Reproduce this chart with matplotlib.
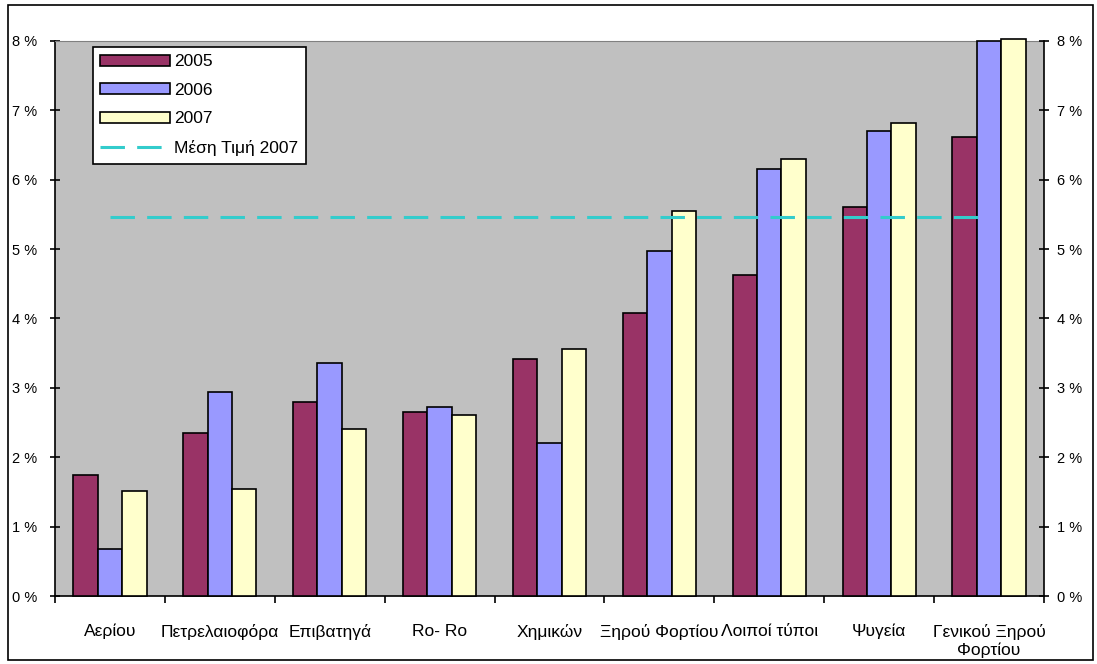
import matplotlib.pyplot as plt
import numpy as np
from matplotlib.patches import Rectangle
from matplotlib.ticker import FuncFormatter

plt.rcParams['font.family'] = ['Liberation Sans', 'DejaVu Sans']

# share of each ship type (%), by year
categories = ['Αερίου', 'Πετρελαιοφόρα', 'Επιβατηγά', 'Ro- Ro', 'Χημικών',
              'Ξηρού Φορτίου', 'Λοιποί τύποι', 'Ψυγεία', 'Γενικού Ξηρού\nΦορτίου']
years = ['2005', '2006', '2007']
vals_2005 = [1.74, 2.35, 2.80, 2.65, 3.41, 4.08, 4.63, 5.60, 6.61]
vals_2006 = [0.68, 2.94, 3.36, 2.72, 2.20, 4.97, 6.15, 6.70, 8.00]
vals_2007 = [1.51, 1.54, 2.41, 2.61, 3.56, 5.55, 6.30, 6.82, 8.03]
mean_2007 = 5.46
mean_label = 'Μέση Τιμή 2007'

colors = ['#993366', '#9999FF', '#FFFFCC']

fig = plt.figure(figsize=(10.97, 6.64), dpi=100)
ax = fig.add_axes([0.0501, 0.1024, 0.9016, 0.8359])
ax.set_facecolor('#C0C0C0')

x = np.arange(len(categories))
w = 1 / 4.5
for i, (vals, yr, c) in enumerate(zip([vals_2005, vals_2006, vals_2007], years, colors)):
    ax.bar(x + (i - 1) * w, vals, width=w, color=c, edgecolor='black',
           linewidth=1.2, label=yr, clip_on=False, zorder=3)

ax.plot(x, [mean_2007] * len(x), color='#33CCCC', lw=2.2,
        dashes=(8, 4), label=mean_label, zorder=4)

ax.set_xlim(-0.5, len(categories) - 0.5)
ax.set_ylim(0, 8)

pct = FuncFormatter(lambda v, p: f'{v:.0f} %')
ax.set_yticks(range(0, 9))
ax.yaxis.set_major_formatter(pct)
ax.tick_params(axis='y', direction='inout', length=7, width=1.2, labelsize=10.5, pad=9)

ax.set_xticks(x)
ax.set_xticklabels(categories, fontsize=12.5)
ax.set_xticks(np.arange(len(categories) + 1) - 0.5, minor=True)
ax.tick_params(axis='x', which='major', length=0, pad=20)
ax.tick_params(axis='x', which='minor', direction='out', length=5, width=1.2)

for s in ['left', 'bottom']:
    ax.spines[s].set_linewidth(1.2)
ax.spines['top'].set_color('#808080')
ax.spines['right'].set_visible(False)

ax2 = ax.twinx()
ax2.set_ylim(0, 8)
ax2.set_yticks(range(0, 9))
ax2.yaxis.set_major_formatter(pct)
ax2.tick_params(axis='y', direction='inout', length=7, width=1.2, labelsize=10.5, pad=6)
ax2.spines['right'].set_linewidth(1.2)
for s in ['left', 'top', 'bottom']:
    ax2.spines[s].set_visible(False)

# bars first, mean line last in the legend
handles, labels = ax.get_legend_handles_labels()
order = [labels.index(l) for l in years + [mean_label]]
leg = ax.legend([handles[i] for i in order], [labels[i] for i in order],
                loc='upper left', bbox_to_anchor=(0.038, 0.99), fontsize=12.5,
                frameon=True, fancybox=False, framealpha=1, edgecolor='black',
                handlelength=4.0, handleheight=0.6, labelspacing=0.78,
                borderpad=0.45, handletextpad=0.25, borderaxespad=0)
leg.get_frame().set_linewidth(1.2)

# outer chart border
fig.add_artist(Rectangle((8 / 1097, 4 / 664), 1085 / 1097, 655 / 664,
                         transform=fig.transFigure, fill=False,
                         edgecolor='black', linewidth=1.2))

fig.savefig('out.png', dpi=100)
